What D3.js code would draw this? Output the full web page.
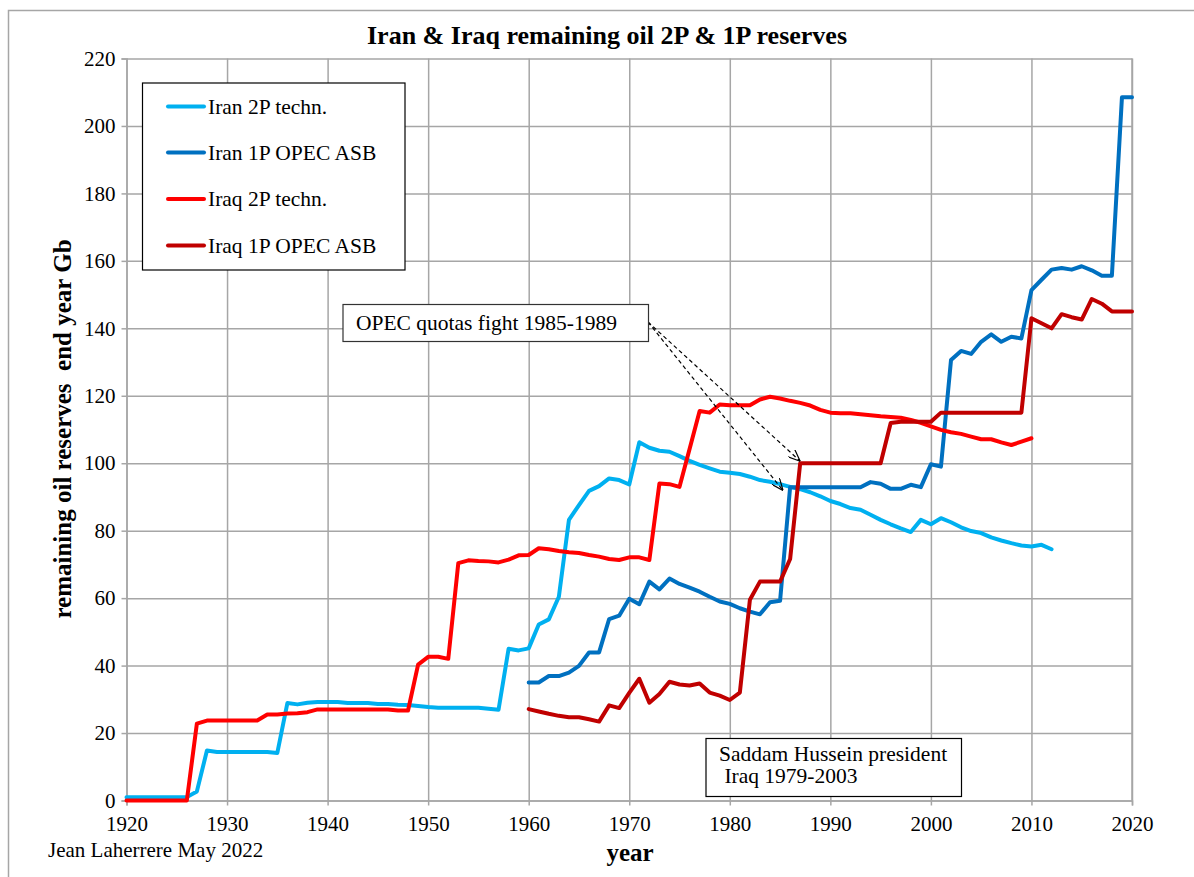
<!DOCTYPE html>
<html><head><meta charset="utf-8">
<script src="https://cdn.jsdelivr.net/npm/d3@7"></script>
<style>body{margin:0;background:#fff} svg{display:block}</style>
</head><body><svg id="c" width="1194" height="877"></svg>
<script>
// ---------- data ----------
const xTickValues = [1920,1930,1940,1950,1960,1970,1980,1990,2000,2010,2020];
const yTickValues = [0,20,40,60,80,100,120,140,160,180,200,220];

const iran2PStart = 1920;
const iran2P = [
 1,1,1,1,1,1,1, 2.7,14.8, 14.4,14.4,14.4,14.4,14.4,14.4, 14.1,28.9,28.5,29.0,29.2,
 29.2,29.2,28.9,28.9,28.9,28.6,28.6,28.4,28.3,28.0,
 27.7,27.5,27.5,27.5,27.5,27.5,27.2,26.9,45.0,44.5,
 45.1,52.2,53.7,60.4,83.2,87.6,91.8,93.2,95.5,95.0,
 93.7,106.2,104.6,103.7,103.4,102.1,100.7,99.5,98.5,97.5,
 97.2,96.8,96.0,95.0,94.5,93.8,93.0,92.3,91.4,90.2,
 88.8,87.9,86.7,86.2,84.7,83.2,81.9,80.7,79.6,83.2,
 81.9,83.7,82.5,81.0,79.9,79.3,78.0,77.1,76.3,75.6,
 75.3,75.8,74.5
];

const iran1PStart = 1960;
const iran1P = [
 35.0,35.0,36.9,36.9,37.9,39.9,43.9,43.9,53.8,54.8,
 59.8,58.2,64.9,62.6,65.8,64.2,63.1,61.9,60.4,59.0,
 58.3,57.0,56.0,55.2,58.8,59.2,92.9,92.9,92.9,92.9,
 92.9,92.9,92.9,92.9,94.4,93.9,92.4,92.4,93.6,92.9,
 99.7,99.0,130.6,133.3,132.4,136.0,138.2,136.0,137.5,137.0,
 151.3,154.4,157.4,157.9,157.4,158.4,157.2,155.6,155.6,208.5,
 208.5
];

const iraq2PStart = 1920;
const iraq2P = [
 0,0,0,0,0,0,0, 22.8,23.7, 23.7,23.7,23.7,23.7,23.7, 25.5,25.5,25.8,25.9,26.2,27.0,
 27.0,27.0,27.0,27.0,27.0,27.0,27.0,26.7,26.7,40.3,
 42.6,42.6,42.0,70.4,71.2,71.0,70.9,70.6,71.4,72.7,
 72.8,74.8,74.5,74.0,73.6,73.4,72.8,72.3,71.6,71.3,
 72.1,72.1,71.3,94.0,93.8,93.0,104.2,115.5,115.0,117.4,
 117.2,117.2,117.2,118.9,119.7,119.2,118.5,117.9,117.1,115.8,
 115.0,114.8,114.8,114.5,114.2,113.9,113.7,113.5,112.8,112.0,
 110.9,109.9,109.2,108.7,107.9,107.1,107.1,106.2,105.4,106.4,
 107.4
];

const iraq1PStart = 1960;
const iraq1P = [
 27.1,26.4,25.7,25.1,24.7,24.7,24.1,23.4,28.2,27.4,
 31.9,36.1,29.0,31.6,35.2,34.4,34.1,34.7,32.0,31.1,
 29.8,32.0,59.5,64.9,64.9,64.9,71.6,100.0,100.0,100.0,
 100.0,100.0,100.0,100.0,100.0,100.0,111.9,112.3,112.3,112.3,
 112.3,115.0,115.0,115.0,115.0,115.0,115.0,115.0,115.0,115.0,
 143.0,141.5,140.0,144.2,143.3,142.6,148.7,147.3,145.0,145.0,
 145.0
];

const seriesNames = ["Iran 2P techn.","Iran 1P OPEC ASB","Iraq 2P techn.","Iraq 1P OPEC ASB"];
const seriesColors = ["#00B0F0","#0070C0","#FF0000","#C00000"];
const seriesValues = [iran2P, iran1P, iraq2P, iraq1P];
const seriesStarts = [iran2PStart, iran1PStart, iraq2PStart, iraq1PStart];

// annotation arrow targets (year, value)
const opecLabel = "OPEC quotas fight 1985-1989";
const opecTargets = [[1985.3, 91.9],[1987.0, 100.6]];
const saddamLines = ["Saddam Hussein president", " Iraq 1979-2003"];

// ---------- drawing ----------
const FONT = "'Liberation Serif','Times New Roman',serif";
const svg = d3.select("#c");
const L = 126.5, R = 1132, T = 58.5, B = 800.5;
const x = d3.scaleLinear().domain([1920,2020]).range([L,R]);
const y = d3.scaleLinear().domain([0,220]).range([B,T]);

// outer frame
svg.append("rect").attr("x",8.5).attr("y",10.5).attr("width",1300).attr("height",1000)
  .attr("fill","none").attr("stroke","#a6a6a6").attr("stroke-width",1.5);

// gridlines
const gridX = svg.append("g").attr("transform",`translate(0,${B})`)
  .call(d3.axisBottom(x).tickValues(xTickValues).tickSize(-(B-T)).tickFormat(""));
const gridY = svg.append("g").attr("transform",`translate(${L},0)`)
  .call(d3.axisLeft(y).tickValues(yTickValues).tickSize(-(R-L)).tickFormat(""));
[gridX,gridY].forEach(g=>{
  g.select(".domain").remove();
  g.selectAll("line").attr("stroke","#a6a6a6").attr("stroke-width",1.5);
});

// axes with outward ticks and labels
const ax = svg.append("g").attr("transform",`translate(0,${B})`)
  .call(d3.axisBottom(x).tickValues(xTickValues).tickSize(5).tickPadding(11).tickFormat(d3.format("d")));
const ay = svg.append("g").attr("transform",`translate(${L},0)`)
  .call(d3.axisLeft(y).tickValues(yTickValues).tickSize(5).tickPadding(6));
[ax,ay].forEach(g=>{
  g.attr("font-family",FONT);
  g.select(".domain").attr("stroke","#a6a6a6").attr("stroke-width",1.5);
  g.selectAll("line").attr("stroke","#a6a6a6").attr("stroke-width",1.5);
  g.selectAll("text").attr("font-family",FONT).attr("font-size",21).attr("fill","#000");
});
// right border of plot
svg.append("line").attr("x1",R).attr("x2",R).attr("y1",T).attr("y2",B)
  .attr("stroke","#a6a6a6").attr("stroke-width",1.5);

// series
const line = d3.line().x(d=>x(d[0])).y(d=>y(d[1]));
seriesValues.forEach((vals,i)=>{
  const pts = vals.map((v,k)=>[seriesStarts[i]+k, v]);
  svg.append("path").datum(pts).attr("d",line)
    .attr("fill","none").attr("stroke",seriesColors[i]).attr("stroke-width",4)
    .attr("stroke-linejoin","round").attr("stroke-linecap","round");
});

// legend
const lg = svg.append("g");
lg.append("rect").attr("x",142.5).attr("y",83).attr("width",262.5).attr("height",187)
  .attr("fill","#fff").attr("stroke","#000").attr("stroke-width",1.2);
const legY = [106.5,152.5,199,245.5];
seriesNames.forEach((n,i)=>{
  lg.append("line").attr("x1",168).attr("x2",204).attr("y1",legY[i]).attr("y2",legY[i])
    .attr("stroke",seriesColors[i]).attr("stroke-width",4).attr("stroke-linecap","round");
  lg.append("text").attr("x",208).attr("y",legY[i]+7).text(n)
    .attr("font-family",FONT).attr("font-size",21.5).attr("fill","#000");
});

// arrow marker
svg.append("defs").append("marker").attr("id","arr")
  .attr("viewBox","0 0 12 10").attr("refX",12).attr("refY",5)
  .attr("markerWidth",12).attr("markerHeight",10).attr("markerUnits","userSpaceOnUse")
  .attr("orient","auto")
  .append("path").attr("d","M0,0 L12,5 L0,10").attr("fill","none").attr("stroke","#000").attr("stroke-width",1.2);

// OPEC annotation
const startPt = [648, 322];
opecTargets.forEach(t=>{
  svg.append("line").attr("x1",startPt[0]).attr("y1",startPt[1])
    .attr("x2",x(t[0])).attr("y2",y(t[1]))
    .attr("stroke","#000").attr("stroke-width",1.2).attr("stroke-dasharray","4,3")
    .attr("marker-end","url(#arr)");
});
svg.append("rect").attr("x",343).attr("y",304.5).attr("width",305.5).attr("height",37)
  .attr("fill","#fff").attr("stroke","#333").attr("stroke-width",1.2);
svg.append("text").attr("x",356).attr("y",330).text(opecLabel)
  .attr("font-family",FONT).attr("font-size",21.5).attr("fill","#000");

// Saddam annotation
svg.append("rect").attr("x",706).attr("y",738.5).attr("width",255.5).attr("height",58)
  .attr("fill","#fff").attr("stroke","#000").attr("stroke-width",1.2);
const st = svg.append("text").attr("font-family",FONT).attr("font-size",21.5).attr("fill","#000")
  .attr("xml:space","preserve").style("white-space","pre");
st.append("tspan").attr("x",719).attr("y",760.5).text(saddamLines[0]);
st.append("tspan").attr("x",719).attr("y",782.5).text(saddamLines[1]);

// title & labels
svg.append("text").attr("x",607).attr("y",43.5).attr("text-anchor","middle")
  .attr("font-family",FONT).attr("font-size",26).attr("font-weight","bold")
  .text("Iran & Iraq remaining oil 2P & 1P reserves");
svg.append("text").attr("transform","translate(71,429) rotate(-90)").attr("text-anchor","middle")
  .attr("font-family",FONT).attr("font-size",25).attr("font-weight","bold")
  .style("white-space","pre")
  .text("remaining oil reserves  end year Gb");
svg.append("text").attr("x",630).attr("y",861).attr("text-anchor","middle")
  .attr("font-family",FONT).attr("font-size",25).attr("font-weight","bold").text("year");
svg.append("text").attr("x",48).attr("y",857)
  .attr("font-family",FONT).attr("font-size",21).attr("fill","#000").text("Jean Laherrere May 2022");
</script></body></html>
